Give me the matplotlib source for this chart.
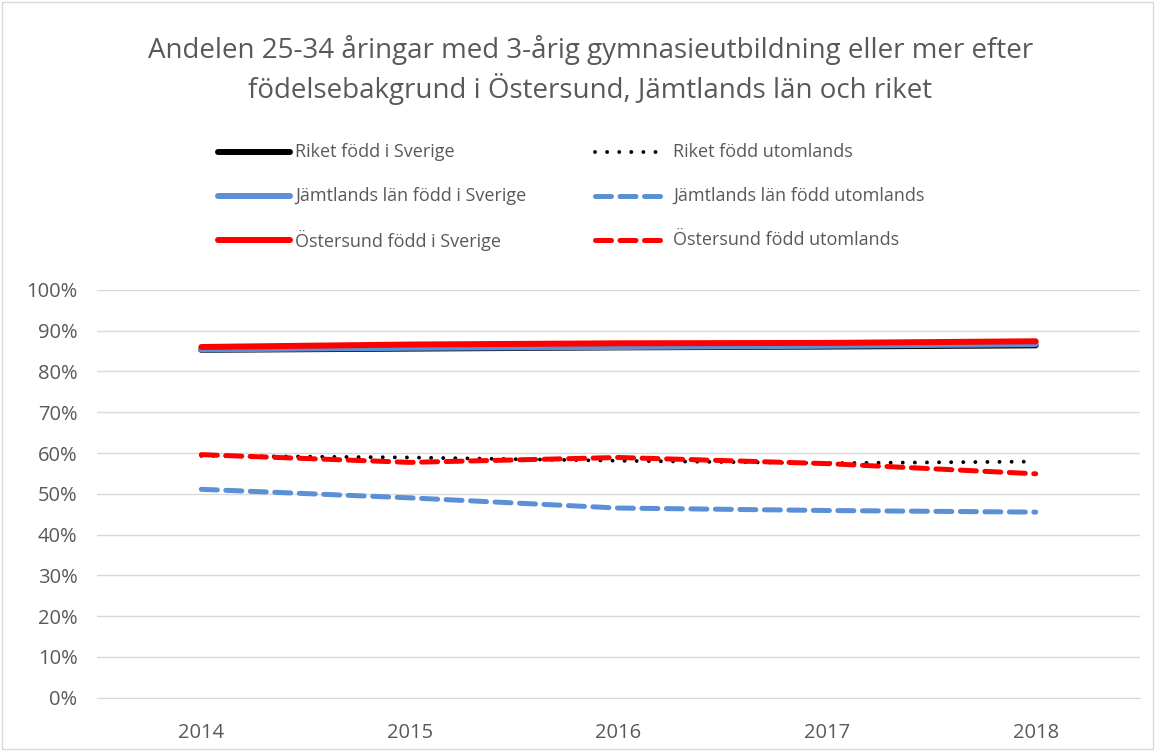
import matplotlib.pyplot as plt
from matplotlib.lines import Line2D

years = ['2014', '2015', '2016', '2017', '2018']

# share (%) of 25-34 year olds with 3-year upper secondary education or more
riket_sverige = [85.3, 85.6, 85.9, 86.1, 86.4]
riket_utomlands = [59.3, 58.9, 58.1, 57.5, 57.9]
jamtland_sverige = [85.4, 85.8, 86.0, 86.3, 86.7]
jamtland_utomlands = [51.1, 49.0, 46.5, 45.9, 45.5]
ostersund_sverige = [86.0, 86.6, 86.9, 87.0, 87.4]
ostersund_utomlands = [59.6, 57.7, 58.9, 57.4, 54.9]

labels = ['Riket född i Sverige', 'Riket född utomlands',
          'Jämtlands län född i Sverige', 'Jämtlands län född utomlands',
          'Östersund född i Sverige', 'Östersund född utomlands']

plt.rcParams['font.family'] = ['Open Sans', 'DejaVu Sans']
text_col = '#595959'
black = '#000000'
blue = '#5B8FD6'
red = '#FF0000'

W, H = 1155, 751
fig = plt.figure(figsize=(W / 100, H / 100), dpi=100)
ax = fig.add_axes([0.084, 0.071, 0.903, 0.543])

x = range(len(years))
solid = dict(lw=4.3, solid_capstyle='round')
dot = dict(lw=2.8, linestyle=(0, (0.01, 3.1)), dash_capstyle='round')
dash = dict(lw=3.6, linestyle=(0, (3.2, 1.7)), dash_capstyle='round')

ax.plot(x, riket_sverige, color=black, **solid)
ax.plot(x, jamtland_sverige, color=blue, **solid)
ax.plot(x, ostersund_sverige, color=red, **solid)
ax.plot(x, jamtland_utomlands, color=blue, **dash)
ax.plot(x, riket_utomlands, color=black, **dot)
ax.plot(x, ostersund_utomlands, color=red, **dash)

ax.set_xlim(-0.5, len(years) - 0.5)
ax.set_ylim(0, 100)
ax.set_yticks(range(0, 101, 10))
ax.set_yticklabels([f'{v}%' for v in range(0, 101, 10)])
ax.set_xticks(list(x))
ax.set_xticklabels(years)
ax.tick_params(axis='both', length=0, labelsize=14.5, colors=text_col)
ax.tick_params(axis='y', pad=14)
ax.tick_params(axis='x', pad=18)
ax.grid(axis='y', color='#D9D9D9', lw=1)
ax.set_axisbelow(True)
for side in ['top', 'right', 'left']:
    ax.spines[side].set_visible(False)
ax.spines['bottom'].set_color('#D9D9D9')

fig.text(0.511, 0.907, 'Andelen 25-34 åringar med 3-årig gymnasieutbildning eller mer efter\n'
         'födelsebakgrund i Östersund, Jämtlands län och riket',
         ha='center', va='center', fontsize=20, color=text_col, linespacing=1.3)

# legend drawn as a 3x2 grid so rows line up
styles = [(black, solid), (black, dot), (blue, solid), (blue, dash), (red, solid), (red, dash)]
col_x = [(218, 290, 295), (595, 665, 673)]
row_y = [152, 196, 240]
for i, (lab, (col, st)) in enumerate(zip(labels, styles)):
    x0, x1, tx = col_x[i % 2]
    yy = 1 - row_y[i // 2] / H
    fig.add_artist(Line2D([x0 / W, x1 / W], [yy, yy], color=col, transform=fig.transFigure, **st))
    fig.text(tx / W, yy, lab, ha='left', va='center', fontsize=13, color=text_col)

fig.patches.append(plt.Rectangle((0.002, 0.002), 0.996, 0.996, transform=fig.transFigure,
                                 fill=False, edgecolor='#D9D9D9', lw=1))

fig.savefig('out.png', dpi=100)
